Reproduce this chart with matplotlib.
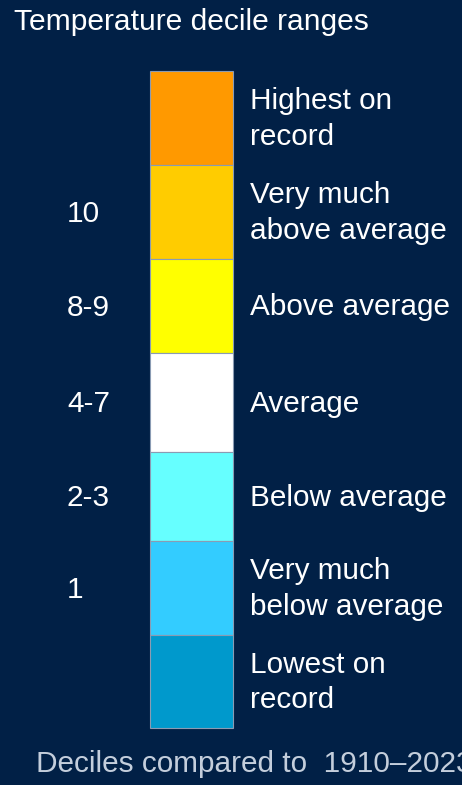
import numpy as np
import matplotlib.pyplot as plt

# ── Legend data (top to bottom) ───────────────────────────────────────────────
categories = ['Highest on\nrecord', 'Very much\nabove average', 'Above average',
              'Average', 'Below average', 'Very much\nbelow average',
              'Lowest on\nrecord']
decile_labels = ['', '10', '8-9', '4-7', '2-3', '1', '']
colors = ['#ff9900', '#ffcc00', '#ffff00', '#ffffff', '#66ffff', '#33ccff', '#0099cc']
seg_heights = [94, 94, 94, 99, 89, 94, 93]

title = 'Temperature decile ranges'
footnote = 'Deciles compared to  1910\u20132023'

BG = '#012046'
FONT = 'Liberation Sans'

fig = plt.figure(figsize=(4.62, 7.85), dpi=100, facecolor=BG)
ax = fig.add_axes([0, 0, 1, 1])
ax.set_facecolor(BG)
ax.set_xlim(0, 462)
ax.set_ylim(785, 0)
ax.axis('off')

# colour bar
top = 71
bottoms = top + np.concatenate([[0], np.cumsum(seg_heights)[:-1]])
ax.bar(191.5, seg_heights, bottom=bottoms, width=83, color=colors,
       edgecolor='#8a9bb3', linewidth=0.8, align='center')

centers = bottoms + np.array(seg_heights) / 2
for c, cat, dec in zip(centers, categories, decile_labels):
    ax.text(250, c + 1, cat, color='white', fontsize=21.4, family=FONT,
            va='center', ha='left', linespacing=1.33)
    if dec:
        ax.text(67, c + 2, dec, color='white', fontsize=21.4, family=FONT,
                va='center', ha='left')

ax.text(14, 30, title, color='white', fontsize=21.6, family=FONT,
        va='baseline', ha='left')
ax.text(36, 772, footnote, color='#c4cedc', fontsize=21.4, family=FONT,
        va='baseline', ha='left')

fig.savefig('out.png', dpi=100, facecolor=BG)
